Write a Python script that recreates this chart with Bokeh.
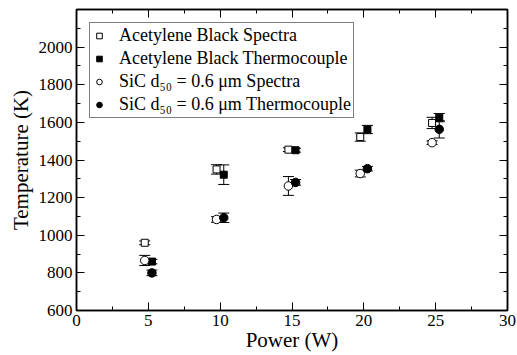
from bokeh.plotting import figure
from bokeh.models import (ColumnDataSource, Whisker, TeeHead, FixedTicker, LinearAxis,
                          Legend, LegendItem, Range1d)
from bokeh.embed import file_html
from bokeh.resources import INLINE

# ---- data ----
power_ab_spec = [4.75, 9.75, 14.75, 19.75, 24.75]
temp_ab_spec = [960, 1350, 1455, 1522, 1597]
err_ab_spec = [10, 25, 10, 22, 30]

power_ab_tc = [5.25, 10.25, 15.25, 20.25, 25.25]
temp_ab_tc = [860, 1322, 1452, 1562, 1625]
err_ab_tc = [12, 52, 10, 22, 22]

power_sic_spec = [4.75, 9.75, 14.75, 19.75, 24.75]
temp_sic_spec = [866, 1084, 1262, 1328, 1492]
err_sic_spec = [27, 15, 50, 18, 10]

power_sic_tc = [5.25, 10.25, 15.25, 20.25, 25.25]
temp_sic_tc = [800, 1093, 1281, 1354, 1563]
err_sic_tc = [15, 25, 15, 12, 46]

labels = ["Acetylene Black Spectra",
          "Acetylene Black Thermocouple",
          "SiC d\u2085\u2080 = 0.6 \u03bcm Spectra",
          "SiC d\u2085\u2080 = 0.6 \u03bcm Thermocouple"]

x_ticks = [0, 5, 10, 15, 20, 25, 30]
x_minor = [2.5, 7.5, 12.5, 17.5, 22.5, 27.5]
y_ticks = [600, 800, 1000, 1200, 1400, 1600, 1800, 2000]
y_minor = [700, 900, 1100, 1300, 1500, 1700, 1900, 2100]

FONT = "Liberation Serif"

p = figure(width=517, height=355, output_backend="svg", toolbar_location=None,
           x_range=Range1d(0, 30), y_range=Range1d(600, 2200),
           min_border_left=76, min_border_right=10, min_border_top=9, min_border_bottom=45)
p.xgrid.visible = False
p.ygrid.visible = False
p.outline_line_color = "black"
p.outline_line_width = 1.5
p.background_fill_color = "white"
p.border_fill_color = "white"


def style_axis(ax, ticks, minor, show_labels):
    ax.ticker = FixedTicker(ticks=ticks, minor_ticks=minor)
    ax.axis_line_color = "black"
    ax.axis_line_width = 1.5
    ax.major_tick_in = 8
    ax.major_tick_out = 0
    ax.minor_tick_in = 4
    ax.minor_tick_out = 0
    ax.major_tick_line_width = 1
    ax.minor_tick_line_width = 1
    ax.major_label_text_font = FONT
    if show_labels:
        ax.major_label_text_color = "black"
        ax.major_label_text_font_size = "17px"
    else:
        ax.major_label_text_color = None
        ax.major_label_text_font_size = "0px"
        ax.major_label_standoff = 0
        ax.axis_label_standoff = 0


xa = p.xaxis[0]
ya = p.yaxis[0]
style_axis(xa, x_ticks, x_minor, True)
style_axis(ya, y_ticks, y_minor, True)
xa.major_label_standoff = 4
ya.major_label_standoff = 4
xa.axis_label = "Power (W)"
ya.axis_label = "Temperature (K)"
for ax in (xa, ya):
    ax.axis_label_text_font = FONT
    ax.axis_label_text_font_style = "normal"
    ax.axis_label_text_font_size = "21px"
    ax.axis_label_text_color = "black"
xa.axis_label_standoff = -1
ya.axis_label_standoff = 3

top_ax = LinearAxis()
right_ax = LinearAxis()
style_axis(top_ax, x_ticks, x_minor, False)
style_axis(right_ax, y_ticks, y_minor, False)
p.add_layout(top_ax, "above")
p.add_layout(right_ax, "right")

series = [
    (power_ab_spec, temp_ab_spec, err_ab_spec, "square", "white", 7),
    (power_ab_tc, temp_ab_tc, err_ab_tc, "square", "black", 7),
    (power_sic_spec, temp_sic_spec, err_sic_spec, "circle", "white", 8.5),
    (power_sic_tc, temp_sic_tc, err_sic_tc, "circle", "black", 8.5),
]

items = []
for (xs, ys, es, marker, fill, size), lab in zip(series, labels):
    src = ColumnDataSource(dict(x=xs, y=ys,
                                upper=[y + e for y, e in zip(ys, es)],
                                lower=[y - e for y, e in zip(ys, es)]))
    w = Whisker(source=src, base="x", upper="upper", lower="lower", dimension="height",
                line_color="black", line_width=1,
                upper_head=TeeHead(size=11, line_color="black", line_width=1),
                lower_head=TeeHead(size=11, line_color="black", line_width=1))
    p.add_layout(w)
    r = p.scatter("x", "y", source=src, marker=marker, size=size,
                  fill_color=fill, line_color="black", line_width=1)
    items.append(LegendItem(label=lab, renderers=[r]))

legend = Legend(items=items, location="top_left", margin=13,
                padding=2, spacing=2, glyph_width=14, glyph_height=21,
                label_height=21, label_standoff=13,
                label_text_font=FONT, label_text_font_size="18px",
                label_text_color="black",
                border_line_color="black", border_line_width=1,
                background_fill_color="white", background_fill_alpha=1)
p.add_layout(legend)

open("out.html", "w").write(file_html(p, INLINE))
